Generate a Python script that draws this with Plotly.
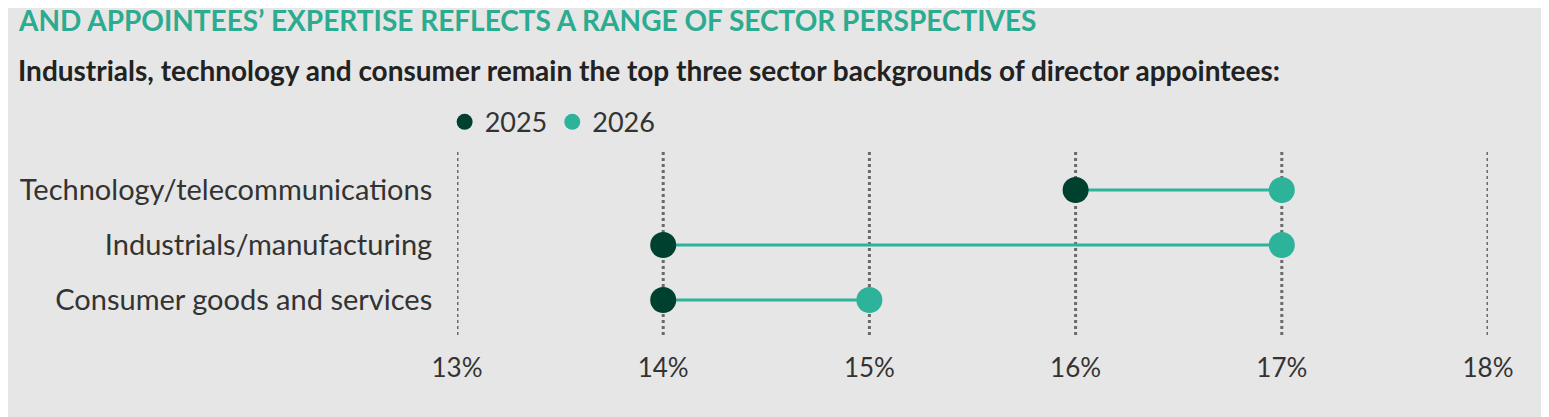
import plotly.graph_objects as go

categories = ["Technology/telecommunications", "Industrials/manufacturing", "Consumer goods and services"]
values_2025 = [16, 14, 14]
values_2026 = [17, 17, 15]
ypos = [2, 1, 0]
tick_vals = [13, 14, 15, 16, 17, 18]
tick_text = ["13%", "14%", "15%", "16%", "17%", "18%"]

dark = "#00402f"
teal = "#2db39a"

fig = go.Figure()
for i in range(len(categories)):
    fig.add_trace(go.Scatter(x=[values_2025[i], values_2026[i]], y=[ypos[i], ypos[i]], mode="lines",
                             line=dict(color=teal, width=3), showlegend=False, hoverinfo="skip"))
fig.add_trace(go.Scatter(x=values_2025, y=ypos, mode="markers", name="2025",
                         marker=dict(color=dark, size=26)))
fig.add_trace(go.Scatter(x=values_2026, y=ypos, mode="markers", name="2026",
                         marker=dict(color=teal, size=26)))

shapes = [dict(type="line", xref="x", yref="paper", x0=v, x1=v, y0=0, y1=1, layer="below",
               line=dict(color="#6a6a6a", width=3, dash="dot")) for v in tick_vals]

fig.update_layout(
    width=1549, height=417,
    paper_bgcolor="#e6e6e6", plot_bgcolor="#e6e6e6",
    margin=dict(l=444, r=69, t=142, b=90),
    font=dict(family="Lato", color="#333333", size=24),
    shapes=shapes,
    xaxis=dict(range=[13, 18], tickvals=tick_vals, ticktext=tick_text, showgrid=False,
               zeroline=False, showline=False, ticks="outside", ticklen=10, tickcolor="rgba(0,0,0,0)",
               tickfont=dict(size=26, color="#333333")),
    yaxis=dict(range=[-0.636, 2.727], tickvals=ypos, ticktext=categories, showgrid=False,
               zeroline=False, showline=False, ticks="outside", ticklen=18,
               tickcolor="rgba(0,0,0,0)", tickfont=dict(size=29, color="#333333")),
    legend=dict(orientation="h", x=-0.012, xanchor="left", y=1.15, yanchor="middle",
                font=dict(size=27), bgcolor="rgba(0,0,0,0)", itemwidth=30,
                tracegroupgap=0),
    annotations=[
        dict(text="<b>AND APPOINTEES’ EXPERTISE REFLECTS A RANGE OF SECTOR PERSPECTIVES</b>",
             xref="paper", yref="paper", x=-0.428, y=1.0 + 130/185, xanchor="left", yanchor="middle",
             showarrow=False, font=dict(size=28, color="#2bab8f", family="Lato")),
        dict(text="<b>Industrials, technology and consumer remain the top three sector backgrounds of director appointees:</b>",
             xref="paper", yref="paper", x=-0.428, y=1.0 + 80/185, xanchor="left", yanchor="middle",
             showarrow=False, font=dict(size=28, color="#222222", family="Lato")),
    ],
)
fig.write_html("out.html")
